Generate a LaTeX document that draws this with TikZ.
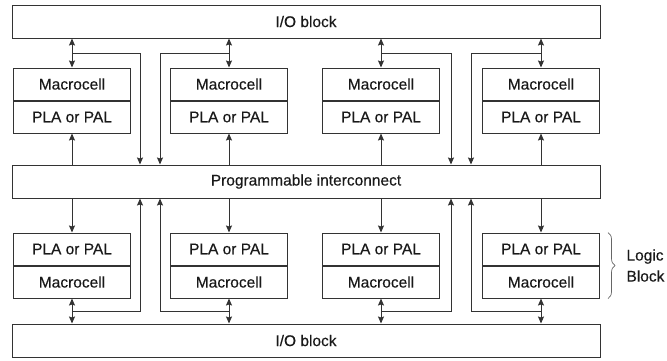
\documentclass[tikz,border=0pt]{standalone}
\usepackage{fontspec}
\setmainfont{Liberation Sans}[FakeBold=0.35]
\usetikzlibrary{arrows.meta, positioning, decorations.pathreplacing}

\begin{document}
\begin{tikzpicture}[x=1pt,y=-1pt,>={Stealth[length=7pt,width=6pt,inset=1pt]},
    line width=1pt,draw=black!80,text=black!90,font=\fontsize{15.5}{21}\selectfont,
    cell/.style={draw,minimum width=117pt,minimum height=32pt,inner sep=0pt},
    bar/.style={draw,minimum width=588pt,minimum height=33pt,inner sep=0pt}]
\useasboundingbox (0,0) rectangle (667,360);
% the three wide bars
\node[bar] (iotop) at (306,21.5) {I/O block};
\node[bar] (ic) at (306,181.5) {Programmable interconnect};
\node[bar] (iobot) at (306,340.5) {I/O block};
% upper logic blocks
\node[cell] (mc1) at (72,84) {Macrocell};
\node[cell,below=0pt of mc1] (pl1) {PLA or PAL};
\node[cell] (mc2) at (229,84) {Macrocell};
\node[cell,below=0pt of mc2] (pl2) {PLA or PAL};
\node[cell] (mc3) at (381,84) {Macrocell};
\node[cell,below=0pt of mc3] (pl3) {PLA or PAL};
\node[cell] (mc4) at (541,84) {Macrocell};
\node[cell,below=0pt of mc4] (pl4) {PLA or PAL};
% lower logic blocks
\node[cell] (pl5) at (72,249) {PLA or PAL};
\node[cell,below=0pt of pl5] (mc5) {Macrocell};
\node[cell] (pl6) at (229,249) {PLA or PAL};
\node[cell,below=0pt of pl6] (mc6) {Macrocell};
\node[cell] (pl7) at (381,249) {PLA or PAL};
\node[cell,below=0pt of pl7] (mc7) {Macrocell};
\node[cell] (pl8) at (541,249) {PLA or PAL};
\node[cell,below=0pt of pl8] (mc8) {Macrocell};

% feedback taps
\coordinate (t1) at (140,53);
\coordinate (t2) at (160,53);
\coordinate (t3) at (451,53);
\coordinate (t4) at (471,53);
\coordinate (u1) at (140,311);
\coordinate (u2) at (160,311);
\coordinate (u3) at (451,311);
\coordinate (u4) at (471,311);

% upper half
\draw[<->] (mc1.north |- iotop.south) -- (mc1.north);
\draw[<->] (mc2.north |- iotop.south) -- (mc2.north);
\draw[<->] (mc3.north |- iotop.south) -- (mc3.north);
\draw[<->] (mc4.north |- iotop.south) -- (mc4.north);
\draw[->] (mc1.north |- t1) -- (t1) -- (t1 |- ic.north);
\draw[->] (mc2.north |- t2) -- (t2) -- (t2 |- ic.north);
\draw[->] (mc3.north |- t3) -- (t3) -- (t3 |- ic.north);
\draw[->] (mc4.north |- t4) -- (t4) -- (t4 |- ic.north);
\draw[->] (pl1.south |- ic.north) -- (pl1.south);
\draw[->] (pl2.south |- ic.north) -- (pl2.south);
\draw[->] (pl3.south |- ic.north) -- (pl3.south);
\draw[->] (pl4.south |- ic.north) -- (pl4.south);

% lower half
\draw[->] (pl5.north |- ic.south) -- (pl5.north);
\draw[->] (pl6.north |- ic.south) -- (pl6.north);
\draw[->] (pl7.north |- ic.south) -- (pl7.north);
\draw[->] (pl8.north |- ic.south) -- (pl8.north);
\draw[<->] (mc5.south) -- (mc5.south |- iobot.north);
\draw[<->] (mc6.south) -- (mc6.south |- iobot.north);
\draw[<->] (mc7.south) -- (mc7.south |- iobot.north);
\draw[<->] (mc8.south) -- (mc8.south |- iobot.north);
\draw[->] (mc5.south |- u1) -- (u1) -- (u1 |- ic.south);
\draw[->] (mc6.south |- u2) -- (u2) -- (u2 |- ic.south);
\draw[->] (mc7.south |- u3) -- (u3) -- (u3 |- ic.south);
\draw[->] (mc8.south |- u4) -- (u4) -- (u4 |- ic.south);

% brace for one logic block
\draw[line width=0.7pt,draw=black!60,decorate,decoration={brace,amplitude=7pt}]
  ([xshift=8pt]pl8.north east) -- ([xshift=8pt]mc8.south east) coordinate[midway] (br);
\node[anchor=west,align=left,inner sep=0pt] (lb) at ([xshift=18pt]br) {Logic\\Block};
\end{tikzpicture}
\end{document}
